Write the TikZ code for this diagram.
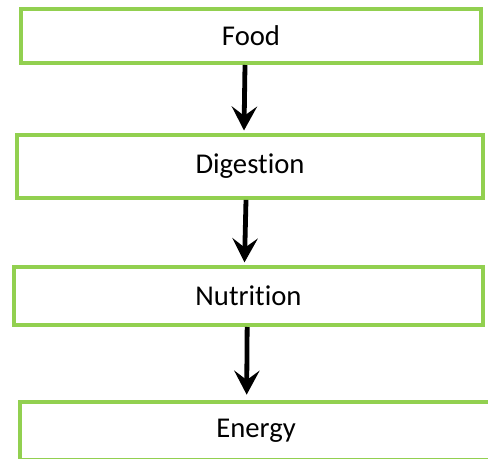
\documentclass[tikz,border=0pt]{standalone}
\usepackage{fontspec}
\setmainfont{Carlito}[Ligatures=NoCommon]
\usetikzlibrary{arrows.meta}
\definecolor{boxgreen}{HTML}{92D050}
\begin{document}
\begin{tikzpicture}[x=0.75pt,y=-0.75pt,
  stage/.style={draw=boxgreen, line width=3pt, fill=white, inner sep=0pt,
    font=\fontsize{21.5}{26}\selectfont},
  flow/.style={line width=3.6pt, -{Stealth[length=18pt,width=19pt,inset=7pt]}}]
\useasboundingbox (0,0) rectangle (488,459);
\clip (0,0) rectangle (488,459);
\node[stage, minimum width=345pt, minimum height=40.5pt] (food) at (251,36) {Food};
\node[stage, minimum width=349.5pt, minimum height=47pt] (dig) at (250,166.5) {Digestion};
\node[stage, minimum width=351.75pt, minimum height=43.5pt] (nut) at (248.5,296) {Nutrition};
\node[stage, minimum width=354pt, minimum height=43.5pt] (energy) at (256,431) {Energy};
\draw[flow] ([xshift=-4.5pt]food.south) -- ([xshift=-4.5pt,yshift=2pt]dig.north);
\draw[flow] ([xshift=-3pt]dig.south) -- ([xshift=-3pt,yshift=2pt]nut.north);
\draw[flow] ([xshift=-1pt]nut.south) -- ([xshift=-7pt,yshift=4pt]energy.north);
\end{tikzpicture}
\end{document}
